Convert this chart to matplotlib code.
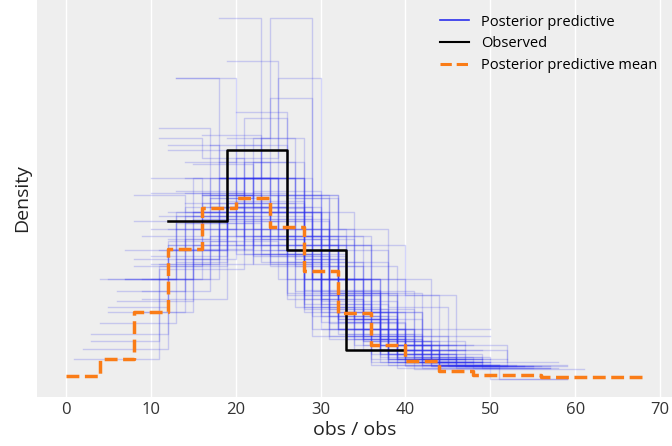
import numpy as np
import matplotlib
matplotlib.use("Agg")
import matplotlib.pyplot as plt
from matplotlib.lines import Line2D

plt.rcParams['font.family'] = ['Open Sans', 'DejaVu Sans']

n_obs = 38

# observed histogram: first edge, bin width, counts
obs_start, obs_width = 12, 7
obs_counts = [11, 16, 9, 2]

# posterior predictive mean histogram (density), bins of width 4 from 0
mean_start, mean_width = 0, 4
mean_density = [0.0008, 0.0052, 0.0175, 0.0341, 0.0448, 0.0474, 0.0399, 0.0282,
                0.0172, 0.0089, 0.0047, 0.0021, 0.0010, 0.0010, 0.0005, 0.0005, 0.0005]

# posterior predictive draws: first edge, bin width, counts per bin
pp_starts = [3, 4, 5, 7, 8, 10, 11, 12, 6, 9, 2, 4, 5, 7, 8, 10,
             11, 13, 12, 14, 13, 18, 14, 16, 15, 17, 19, 20, 19, 15,
             16, 14, 12, 9, 11, 10, 13, 12, 10, 6, 1, 3, 8, 11,
             14, 9, 12, 15, 7, 10, 13, 17, 16, 11, 5, 13, 9, 12, 14, 8,
             10, 12, 14, 16, 9, 13, 11, 18, 15, 12,
             15, 20, 22, 17]
pp_widths = [9, 8, 7, 7, 6, 6, 6, 6, 8, 7, 10, 9, 8, 6, 7, 7,
             5, 5, 7, 6, 7, 5, 5, 6, 5, 5, 6, 6, 5, 7,
             7, 8, 6, 6, 6, 5, 6, 8, 9, 9, 10, 8, 8, 7,
             7, 5, 5, 6, 8, 6, 8, 6, 5, 8, 9, 5, 7, 9, 6, 10,
             7, 6, 7, 6, 8, 6, 7, 6, 8, 7,
             7, 6, 6, 7]
pp_counts = [
    [4, 12, 12, 7, 2, 1], [8, 11, 10, 6, 2, 1], [5, 9, 12, 7, 3, 2], [9, 12, 9, 5, 2, 1],
    [11, 10, 8, 5, 3, 1], [12, 11, 8, 4, 2, 1], [15, 11, 7, 3, 2], [14, 12, 7, 3, 1, 1],
    [7, 13, 10, 5, 2, 1], [10, 12, 9, 4, 2, 1], [3, 13, 14, 6, 2], [5, 14, 11, 5, 2, 1],
    [8, 13, 10, 5, 2], [6, 10, 11, 6, 3, 1, 1], [11, 14, 8, 3, 1, 1], [13, 12, 8, 3, 1, 1],
    [12, 11, 7, 4, 2, 1, 1], [15, 10, 7, 4, 2], [16, 12, 6, 3, 1], [13, 14, 7, 3, 1],
    [21, 10, 5, 2], [18, 10, 6, 3, 1], [4, 8, 18, 5, 2, 1], [11, 13, 8, 4, 2],
    [6, 11, 15, 4, 2], [9, 12, 9, 5, 2, 1], [19, 10, 6, 2, 1], [16, 11, 7, 3, 1],
    [12, 14, 7, 3, 1, 1], [15, 12, 7, 3, 1],
    [17, 12, 6, 2, 1], [14, 15, 6, 2, 1], [8, 12, 10, 5, 2, 1], [4, 8, 13, 8, 4, 1],
    [6, 12, 10, 6, 3, 1], [5, 8, 10, 7, 4, 2, 1, 1], [7, 10, 11, 6, 3, 1], [12, 14, 8, 3, 1],
    [11, 16, 8, 2, 1], [7, 15, 11, 4, 1], [2, 11, 16, 7, 1, 1], [3, 9, 12, 9, 3, 1, 1],
    [9, 14, 9, 4, 1, 1], [9, 14, 9, 4, 2],
    [13, 14, 7, 3, 1], [4, 7, 9, 8, 5, 3, 1, 1], [7, 9, 10, 6, 3, 2, 1], [10, 12, 9, 5, 2],
    [8, 12, 10, 5, 2, 1], [9, 11, 9, 5, 3, 1], [15, 13, 7, 2, 1], [14, 12, 7, 3, 2],
    [8, 13, 9, 5, 2, 1], [13, 14, 7, 3, 1, 0], [6, 14, 12, 4, 2, 0], [6, 10, 12, 6, 3, 1],
    [7, 13, 10, 5, 2, 1], [15, 15, 6, 1, 1], [12, 11, 8, 4, 2, 1], [12, 17, 7, 2],
    [8, 10, 10, 6, 3, 1], [6, 9, 10, 8, 4, 1], [9, 11, 10, 6, 2], [10, 10, 9, 6, 2, 1],
    [7, 11, 10, 7, 2, 1], [9, 12, 9, 5, 2, 1], [8, 11, 10, 6, 2, 1], [13, 11, 8, 4, 2],
    [13, 12, 9, 3, 1], [9, 13, 10, 4, 2],
    [8, 10, 10, 7, 3], [10, 11, 9, 5, 3], [12, 10, 8, 5, 2, 1], [10, 11, 9, 5, 2, 1],
]

blue = "#2a2eec"
orange = "#fa7c17"


def step_xy(start, width, dens):
    edges = start + width * np.arange(len(dens) + 1)
    dens = np.asarray(dens, dtype=float)
    return edges, np.concatenate((dens[:1], dens))


fig = plt.figure(figsize=(6.72, 4.46), dpi=100)
ax = fig.add_axes([0.055, 0.11, 0.945, 0.89])
ax.set_facecolor("#eeeeee")

for s, w, c in zip(pp_starts, pp_widths, pp_counts):
    dens = np.array(c) / (n_obs * w)
    ex, ey = step_xy(s, w, dens)
    ax.plot(ex, ey, drawstyle="steps-pre", color=blue, alpha=0.2, linewidth=1.0, zorder=1)

ex, ey = step_xy(obs_start, obs_width, np.array(obs_counts) / (n_obs * obs_width))
ax.plot(ex, ey, drawstyle="steps-pre", color="k", linewidth=1.8, zorder=3)

ex, ey = step_xy(mean_start, mean_width, mean_density)
ax.plot(ex, ey, drawstyle="steps-pre", color=orange, linestyle="--", linewidth=2.5, zorder=4)

ax.set_yticks([])
ax.set_xticks([0, 10, 20, 30, 40, 50, 60, 70])
ax.tick_params(axis="x", length=0, labelsize=12, colors="#333333")
ax.grid(axis="x", color="white", linewidth=1)
ax.set_axisbelow(True)
for sp in ax.spines.values():
    sp.set_visible(False)

ax.set_xlabel("obs / obs", fontsize=14, color="#222222", labelpad=2)
ax.set_ylabel("Density", fontsize=14, color="#222222")

handles = [Line2D([], [], color=blue, linewidth=1.2),
           Line2D([], [], color="k", linewidth=1.5),
           Line2D([], [], color=orange, linestyle="--", linewidth=2.2)]
ax.legend(handles, ["Posterior predictive", "Observed", "Posterior predictive mean"],
          loc="upper right", frameon=False, fontsize=10.5, borderaxespad=0.6,
          labelspacing=0.45)

fig.savefig("out.png", dpi=100)
